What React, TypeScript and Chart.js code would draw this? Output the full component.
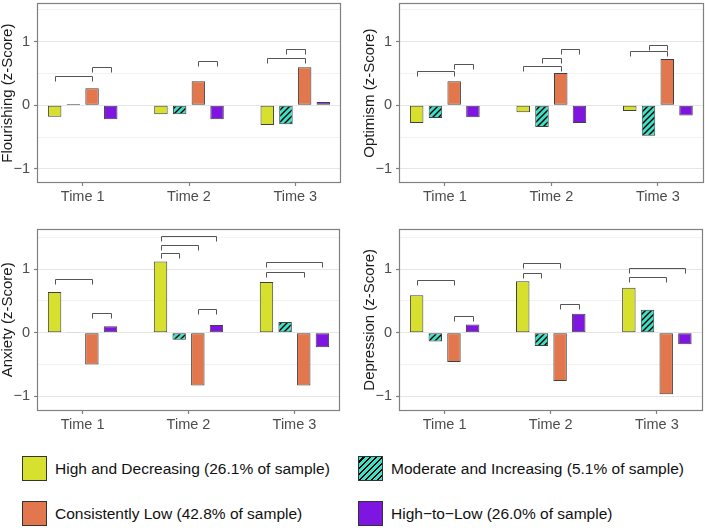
import React, { useEffect, useRef } from 'react';
import { Chart, registerables } from 'chart.js';

Chart.register(...registerables);

// ---------- data ----------
const TIME_LABELS = ['Time 1', 'Time 2', 'Time 3'];
const TIME_X = [1, 2, 3];
const Y_TICKS = [-1, -0.5, 0, 0.5, 1, 1.5];

const GROUP_NAMES = [
  'High and Decreasing (26.1% of sample)',
  'Moderate and Increasing (5.1% of sample)',
  'Consistently Low (42.8% of sample)',
  'High\u2212to\u2212Low (26.0% of sample)',
];

// Flourishing
const FLOURISHING_HD = [-0.18, -0.14, -0.31];
const FLOURISHING_MI = [0.02, -0.14, -0.3];
const FLOURISHING_CL = [0.27, 0.38, 0.6];
const FLOURISHING_HL = [-0.22, -0.22, 0.05];

// Optimism
const OPTIMISM_HD = [-0.28, -0.11, -0.09];
const OPTIMISM_MI = [-0.2, -0.34, -0.48];
const OPTIMISM_CL = [0.38, 0.51, 0.73];
const OPTIMISM_HL = [-0.19, -0.28, -0.16];

// Anxiety
const ANXIETY_HD = [0.64, 1.12, 0.8];
const ANXIETY_MI = [0.005, -0.11, 0.17];
const ANXIETY_CL = [-0.5, -0.83, -0.83];
const ANXIETY_HL = [0.1, 0.12, -0.23];

// Depression
const DEPRESSION_HD = [0.59, 0.81, 0.71];
const DEPRESSION_MI = [-0.14, -0.21, 0.36];
const DEPRESSION_CL = [-0.46, -0.76, -0.97];
const DEPRESSION_HL = [0.13, 0.3, -0.18];

// significance brackets: [time index, from group, to group, height (z)]
type Bracket = [number, number, number, number];
const FLOURISHING_BRACKETS: Bracket[] = [
  [0, 0, 2, 0.455], [0, 2, 3, 0.61], [1, 2, 3, 0.69], [2, 0, 2, 0.74], [2, 1, 2, 0.88],
];
const OPTIMISM_BRACKETS: Bracket[] = [
  [0, 0, 2, 0.54], [0, 2, 3, 0.65], [1, 0, 2, 0.62], [1, 1, 2, 0.75], [1, 2, 3, 0.88],
  [2, 0, 2, 0.85], [2, 1, 2, 0.95],
];
const ANXIETY_BRACKETS: Bracket[] = [
  [0, 0, 2, 0.85], [0, 2, 3, 0.31], [1, 0, 1, 1.25], [1, 0, 2, 1.38], [1, 0, 3, 1.52],
  [1, 2, 3, 0.37], [2, 0, 2, 0.96], [2, 0, 3, 1.12],
];
const DEPRESSION_BRACKETS: Bracket[] = [
  [0, 0, 2, 0.83], [0, 2, 3, 0.27], [1, 0, 1, 0.94], [1, 0, 2, 1.09], [1, 2, 3, 0.45],
  [2, 0, 2, 0.88], [2, 0, 3, 1.02],
];

// ---------- styles ----------
const FONT = '"Liberation Sans", Arial, Helvetica, sans-serif';
const YELLOW = '#d7e02c';
const TEAL = '#3fe0c5';
const ORANGE = '#e2774e';
const PURPLE = '#7f15e0';
const BAR_BORDER = '#404040';
const FRAME = '#808080';

function makeHatch(): CanvasPattern | string {
  const c = document.createElement('canvas');
  c.width = 6;
  c.height = 6;
  const g = c.getContext('2d');
  if (!g) return TEAL;
  g.fillStyle = TEAL;
  g.fillRect(0, 0, 6, 6);
  g.strokeStyle = '#000';
  g.lineWidth = 1.4;
  g.beginPath();
  g.moveTo(0, 6); g.lineTo(6, 0);
  g.moveTo(-3, 3); g.lineTo(3, -3);
  g.moveTo(3, 9); g.lineTo(9, 3);
  g.stroke();
  return g.createPattern(c, 'repeat') || TEAL;
}

type PanelProps = {
  left: number; top: number; width: number; height: number;
  pad: { left: number; right: number; top: number; bottom: number };
  xHeight: number;
  yMin: number; yMax: number;
  title: string;
  series: number[][];
  brackets: Bracket[];
};

function Panel(p: PanelProps) {
  const ref = useRef<HTMLCanvasElement>(null);
  useEffect(() => {
    const canvas = ref.current;
    if (!canvas) return;
    const fills = [YELLOW, makeHatch(), ORANGE, PURPLE];

    const bracketPlugin = {
      id: 'brackets',
      afterDatasetsDraw(chart: any) {
        const ctx = chart.ctx;
        const ys = chart.scales.y;
        ctx.save();
        ctx.strokeStyle = '#555555';
        ctx.lineWidth = 1;
        for (const [t, a, b, v] of p.brackets) {
          const xa = Math.round(chart.getDatasetMeta(a).data[t].x) + 0.5;
          const xb = Math.round(chart.getDatasetMeta(b).data[t].x) + 0.5;
          const py = Math.round(ys.getPixelForValue(v)) + 0.5;
          ctx.beginPath();
          ctx.moveTo(xa, py + 5);
          ctx.lineTo(xa, py);
          ctx.lineTo(xb, py);
          ctx.lineTo(xb, py + 5);
          ctx.stroke();
        }
        ctx.restore();
      },
    };
    const framePlugin = {
      id: 'frame',
      afterDraw(chart: any) {
        const { left, top, right, bottom } = chart.chartArea;
        const ctx = chart.ctx;
        ctx.save();
        ctx.strokeStyle = FRAME;
        ctx.lineWidth = 1.2;
        ctx.strokeRect(Math.round(left) + 0.5, Math.round(top) + 0.5,
          Math.round(right) - Math.round(left) - 1, Math.round(bottom) - Math.round(top) - 1);
        ctx.restore();
      },
    };

    const isInt = (v: any) => typeof v === 'number' && Math.abs(v - Math.round(v)) < 1e-9;

    const chart = new Chart(canvas, {
      type: 'bar',
      data: {
        datasets: p.series.map((vals, i) => ({
          label: GROUP_NAMES[i],
          data: vals.map((v, j) => ({ x: TIME_X[j], y: v })),
          backgroundColor: fills[i] as any,
          borderColor: BAR_BORDER,
          borderWidth: 1,
          borderSkipped: false,
          categoryPercentage: 0.704,
          barPercentage: 0.72,
        })),
      },
      options: {
        responsive: false,
        animation: false,
        devicePixelRatio: 1,
        layout: { padding: p.pad },
        plugins: { legend: { display: false }, tooltip: { enabled: false } },
        scales: {
          x: {
            type: 'linear',
            min: 0.57,
            max: 3.43,
            bounds: 'data',
            offset: false,
            afterBuildTicks: (s: any) => { s.ticks = TIME_X.map((v) => ({ value: v })); },
            afterFit: (s: any) => { s.height = p.xHeight; s.paddingLeft = 0; s.paddingRight = 0; },
            ticks: {
              autoSkip: false,
              maxRotation: 0,
              padding: 2.5,
              color: '#4d4d4d',
              font: { family: FONT, size: 14.5 },
              callback: (v: any) => {
                const k = TIME_X.indexOf(Number(v));
                return k >= 0 ? TIME_LABELS[k] : '';
              },
            },
            grid: { offset: false, drawOnChartArea: false, tickLength: 3, tickColor: FRAME, tickWidth: 1.2 },
            border: { display: false },
          } as any,
          y: {
            min: p.yMin,
            max: p.yMax,
            bounds: 'data',
            afterBuildTicks: (s: any) => { s.ticks = Y_TICKS.map((v) => ({ value: v })); },
            afterFit: (s: any) => { s.width = 37; s.paddingTop = 0; s.paddingBottom = 0; },
            ticks: {
              padding: 4,
              color: '#4d4d4d',
              font: { family: FONT, size: 14.5 },
              callback: (v: any) => (isInt(v) ? (v < 0 ? '\u2212' + Math.abs(v) : String(v)) : ''),
            },
            grid: {
              color: (c: any) => (isInt(c.tick && c.tick.value) ? '#e6e6e6' : '#f2f2f2'),
              lineWidth: 1,
              tickLength: 3,
              tickWidth: 1.2,
              tickColor: (c: any) => (isInt(c.tick && c.tick.value) ? FRAME : 'rgba(0,0,0,0)'),
            },
            border: { display: false },
            title: {
              display: true,
              text: p.title,
              color: '#1a1a1a',
              padding: 0,
              font: { family: FONT, size: 15, lineHeight: 1.1 },
            },
          } as any,
        },
      },
      plugins: [bracketPlugin, framePlugin],
    });
    return () => chart.destroy();
  }, []);
  return (
    <canvas
      ref={ref}
      width={p.width}
      height={p.height}
      style={{ position: 'absolute', left: p.left, top: p.top, width: p.width, height: p.height, display: 'block' }}
    />
  );
}

function LegendItem({ left, top, fill, label, hatch }: { left: number; top: number; fill: string; label: string; hatch?: boolean }) {
  const bg = hatch
    ? `repeating-linear-gradient(135deg, ${TEAL} 0px, ${TEAL} 2.8px, #000 2.8px, #000 4.3px)`
    : fill;
  return (
    <>
      <div
        style={{
          position: 'absolute', left, top, width: 25, height: 25, boxSizing: 'border-box',
          border: '1px solid #333', background: bg,
        }}
      />
      <div
        style={{
          position: 'absolute', left: left + 33, top, height: 25, lineHeight: '25px',
          fontFamily: FONT, fontSize: 15.5, color: '#111', whiteSpace: 'nowrap',
        }}
      >
        {label}
      </div>
    </>
  );
}

export default function App() {
  return (
    <div style={{ position: 'fixed', left: 0, top: 0, width: 705, height: 528, background: '#fff', overflow: 'hidden' }}>
      <Panel
        left={0} top={0} width={352} height={220}
        pad={{ left: 0, right: 11, top: 3.3, bottom: 0 }} xHeight={37}
        yMin={-1.223} yMax={1.605}
        title="Flourishing (z-Score)"
        series={[FLOURISHING_HD, FLOURISHING_MI, FLOURISHING_CL, FLOURISHING_HL]}
        brackets={FLOURISHING_BRACKETS}
      />
      <Panel
        left={352} top={0} width={353} height={220}
        pad={{ left: 10, right: 1.3, top: 3.3, bottom: 0 }} xHeight={37}
        yMin={-1.223} yMax={1.605}
        title="Optimism (z-Score)"
        series={[OPTIMISM_HD, OPTIMISM_MI, OPTIMISM_CL, OPTIMISM_HL]}
        brackets={OPTIMISM_BRACKETS}
      />
      <Panel
        left={0} top={220} width={352} height={215}
        pad={{ left: 0, right: 12, top: 8.7, bottom: 0 }} xHeight={24}
        yMin={-1.233} yMax={1.638}
        title="Anxiety (z-Score)"
        series={[ANXIETY_HD, ANXIETY_MI, ANXIETY_CL, ANXIETY_HL]}
        brackets={ANXIETY_BRACKETS}
      />
      <Panel
        left={352} top={220} width={353} height={215}
        pad={{ left: 10, right: 2.5, top: 8.7, bottom: 0 }} xHeight={24}
        yMin={-1.233} yMax={1.638}
        title="Depression (z-Score)"
        series={[DEPRESSION_HD, DEPRESSION_MI, DEPRESSION_CL, DEPRESSION_HL]}
        brackets={DEPRESSION_BRACKETS}
      />
      <LegendItem left={22} top={456} fill={YELLOW} label={GROUP_NAMES[0]} />
      <LegendItem left={358} top={456} fill={TEAL} label={GROUP_NAMES[1]} hatch />
      <LegendItem left={22} top={501} fill={ORANGE} label={GROUP_NAMES[2]} />
      <LegendItem left={358} top={501} fill={PURPLE} label={GROUP_NAMES[3]} />
    </div>
  );
}
